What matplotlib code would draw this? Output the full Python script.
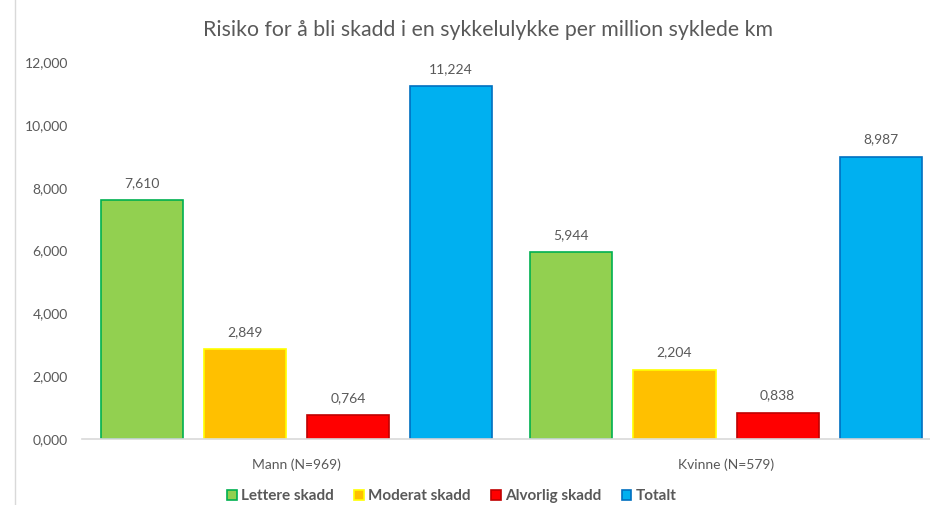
import numpy as np
import matplotlib
matplotlib.use('Agg')
import matplotlib.pyplot as plt
from matplotlib.lines import Line2D
from matplotlib.patches import Patch

plt.rcParams['font.family'] = ['Lato', 'DejaVu Sans']

# Data
grupper = ['Mann (N=969)', 'Kvinne (N=579)']
serier = ['Lettere skadd', 'Moderat skadd', 'Alvorlig skadd', 'Totalt']
verdier = {
    'Lettere skadd': [7.610, 5.944],
    'Moderat skadd': [2.849, 2.204],
    'Alvorlig skadd': [0.764, 0.838],
    'Totalt': [11.224, 8.987],
}
y_ticks = [0, 2, 4, 6, 8, 10, 12]

fyll = ['#92D050', '#FFC000', '#FF0000', '#00B0F0']
kant = ['#00B050', '#FFFF00', '#C00000', '#0070C0']
tekstfarge = '#595959'

fig = plt.figure(figsize=(9.3, 5.05), dpi=100)
ax = fig.add_axes([0.0879, 0.1307, 0.9237, 0.7465])

x = np.arange(len(grupper))
bredde = 0.191
steg = 0.24

for i, navn in enumerate(serier):
    pos = x + (i - 1.5) * steg
    bars = ax.bar(pos, verdier[navn], width=bredde, color=fyll[i],
                  edgecolor=kant[i], linewidth=1.2, label=navn)
    for b, v in zip(bars, verdier[navn]):
        ax.annotate(f'{v:.3f}'.replace('.', ','),
                    (b.get_x() + b.get_width() / 2, b.get_height()),
                    xytext=(0, 8), textcoords='offset points',
                    ha='center', va='bottom', fontsize=10, color=tekstfarge)

ax.set_xlim(-0.5, 1.5)
ax.set_ylim(0, 12)
ax.set_yticks(y_ticks)
ax.set_yticklabels([f'{t:.3f}'.replace('.', ',') for t in y_ticks])
ax.set_xticks(x)
ax.set_xticklabels(grupper)
ax.tick_params(axis='both', length=0, labelsize=10, colors=tekstfarge)
ax.tick_params(axis='y', pad=10)
ax.tick_params(axis='x', pad=14)

for s in ['top', 'right', 'left']:
    ax.spines[s].set_visible(False)
ax.spines['bottom'].set_color('#D9D9D9')
ax.spines['bottom'].set_linewidth(1.2)

fig.text(0.525, 0.94, 'Risiko for å bli skadd i en sykkelulykke per million syklede km',
         ha='center', va='center', fontsize=15.3, color=tekstfarge)

# venstre kantlinje fra diagramrammen
fig.add_artist(Line2D([0.0165, 0.0165], [0, 1], color='#D9D9D9', linewidth=1))

handles = [Patch(facecolor=fyll[i], edgecolor=kant[i], linewidth=1.2) for i in range(4)]
fig.legend(handles, serier, loc='center', bbox_to_anchor=(0.486, 0.017), ncol=4,
           frameon=False, prop={'weight': 'bold', 'size': 11},
           handlelength=0.6, handleheight=0.7, handletextpad=0.3, columnspacing=1.35,
           labelcolor=tekstfarge)

fig.savefig('out.png', dpi=100)
